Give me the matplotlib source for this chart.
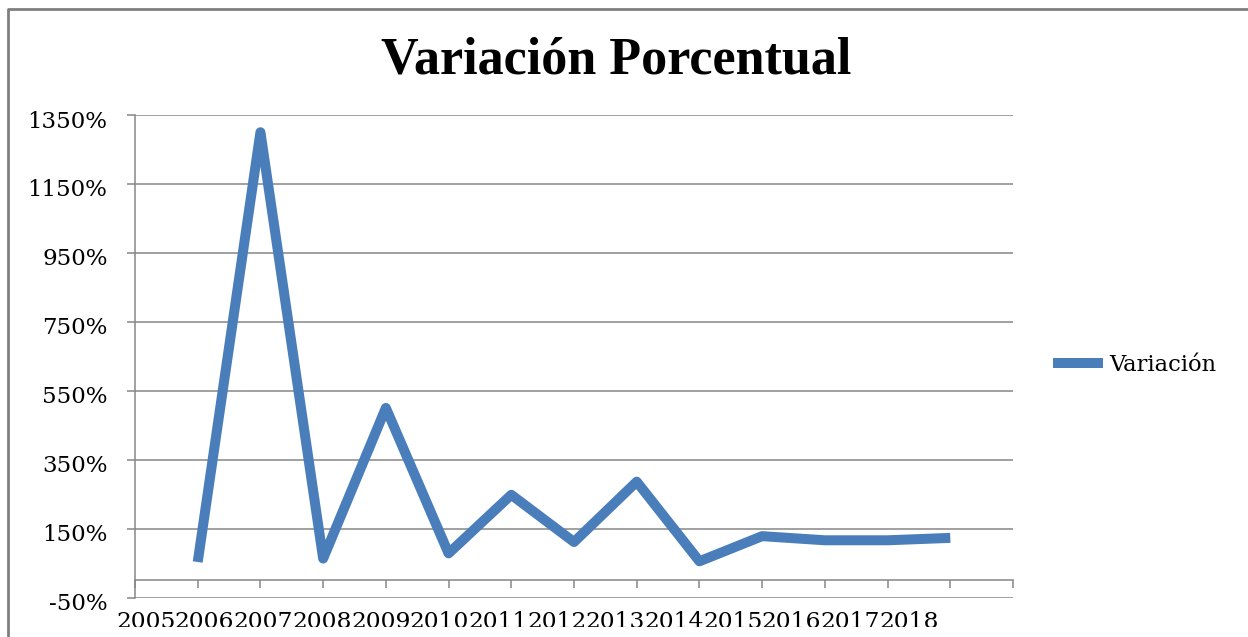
import matplotlib
matplotlib.use("Agg")
import matplotlib.pyplot as plt
import numpy as np
from matplotlib.lines import Line2D
from matplotlib.transforms import Bbox, TransformedBbox, ScaledTranslation
from matplotlib.ticker import FuncFormatter

# ---- data ----
years = ["2005", "2006", "2007", "2008", "2009", "2010", "2011",
         "2012", "2013", "2014", "2015", "2016", "2017", "2018"]
value_years = ["2006", "2007", "2008", "2009", "2010", "2011", "2012",
               "2013", "2014", "2015", "2016", "2017", "2018"]
variacion = [53, 1300, 63, 500, 78, 248, 111, 286, 55, 128, 116, 116, 123]
y_ticks = [-50, 150, 350, 550, 750, 950, 1150, 1350]
title = "Variación Porcentual"
series_name = "Variación"

W, H = 1248, 637
fig = plt.figure(figsize=(W / 100, H / 100), dpi=100)
fig.patch.set_facecolor("white")

left, right, top, bottom = 135, 1013, 115, 597.5
ax = fig.add_axes([left / W, 1 - bottom / H, (right - left) / W, (bottom - top) / H])

grid_col = "#868686"
line_col = "#4A7EBB"
tick_font = dict(family="DejaVu Serif", size=16.5)

xpos = [years.index(y) for y in value_years]
ax.plot(xpos, variacion, color=line_col, lw=7.2, solid_joinstyle="round",
        solid_capstyle="butt", label=series_name, zorder=3)

ax.set_xlim(0, len(years))
ax.set_ylim(y_ticks[0], y_ticks[-1])
ax.set_yticks(y_ticks)
ax.yaxis.set_major_formatter(FuncFormatter(lambda v, p: f"{int(v)}%"))
ax.grid(axis="y", color=grid_col, lw=1.1, zorder=0)
ax.set_axisbelow(True)

for s in ["top", "right"]:
    ax.spines[s].set_visible(False)
ax.spines["left"].set_color(grid_col)
ax.spines["left"].set_linewidth(1.1)
ax.spines["bottom"].set_position(("data", 0))
ax.spines["bottom"].set_color(grid_col)
ax.spines["bottom"].set_linewidth(1.1)

ax.tick_params(axis="y", direction="out", length=5.8, width=1.1, color=grid_col,
               pad=14, labelsize=tick_font["size"])
ydown = ScaledTranslation(0, -4 / 100, fig.dpi_scale_trans)
for lbl in ax.get_yticklabels():
    lbl.set_family(tick_font["family"])
    lbl.set_transform(lbl.get_transform() + ydown)

ax.set_xticks(np.arange(len(years) + 1))
ax.tick_params(axis="x", direction="out", length=5.8, width=1.1, color=grid_col,
               labelbottom=False)

# category labels, squeezed together as in the original rendering
sec = ax.secondary_xaxis(0)
sec.spines["bottom"].set_visible(False)
label_pos = 0.175 + 0.936 * np.arange(len(years))
sec.set_xticks(label_pos)
sec.set_xticklabels(years)
sec.tick_params(axis="x", length=0, pad=10, labelsize=16.8)
# the original chart cuts the category labels off at y = 627 px
clip = TransformedBbox(Bbox([[0, 1 - 627 / H], [1, 1]]), fig.transFigure)
for lbl in sec.get_xticklabels():
    lbl.set_family(tick_font["family"])
    lbl.set_clip_box(clip)
    lbl.set_clip_on(True)

# title
fig.text(616 / W, 1 - 60 / H, title, ha="center", va="center",
         family="Liberation Serif", weight="bold", size=37.5)

# legend
leg = ax.legend(loc="center left", bbox_to_anchor=(1053 / W, 1 - 365 / H),
                bbox_transform=fig.transFigure, frameon=False,
                handlelength=2.2, handletextpad=0.3, borderpad=0, borderaxespad=0,
                prop=dict(family="DejaVu Serif", size=16.3))

# chart border (left and top edges visible; the rest is cut off)
fig.add_artist(Line2D([7.5 / W, 7.5 / W, 1.2], [-0.2, 1 - 9 / H, 1 - 9 / H],
                      transform=fig.transFigure, color="#7f7f7f", lw=2.0,
                      clip_on=False))

fig.savefig("out.png", dpi=100)
